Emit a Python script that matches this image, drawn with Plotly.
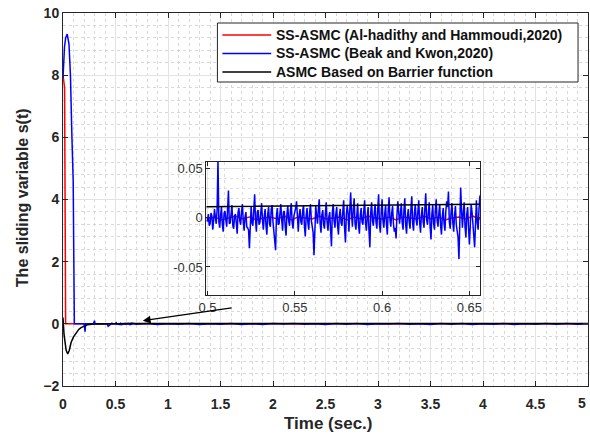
import numpy as np
import plotly.graph_objects as go

# --- data ------------------------------------------------------------------
# red: SS-ASMC (Al-hadithy and Hammoudi, 2020)
red_t_head = [0.0, 0.015, 0.025, 0.1, 0.3, 0.499]
red_s_head = [8.0, 7.6, 0.0, 0.0, 0.0, 0.0]
# zoomed window (0.5 .. 0.656 s), step 4 ms, values in 1e-3
red_zoom_ms = [-1, 1, -2, 0, 2, -1, 1, -2, 0, 1, -1, 2, -2, 1, 0, -1, 2, -1, 0, 1,
               -2, 1, -1, 2, 0, -1, 1, -2, 1, 0, -1, 2, -1, 1, -2, 0, 1, -1, 2, -1]
red_t_tail = [0.7, 5.0]
red_s_tail = [0.0, 0.0]

# blue: SS-ASMC (Beak and Kwon, 2020)
blue_t_head = [0.0, 0.005, 0.014, 0.025, 0.04, 0.057, 0.071, 0.085, 0.097, 0.108,
               0.2, 0.205, 0.21, 0.215, 0.29, 0.295, 0.3, 0.305,
               0.42, 0.425, 0.43, 0.46, 0.465, 0.47]
blue_s_head = [7.9, 8.5, 8.9, 9.2, 9.32, 9.0, 8.0, 6.0, 4.6, 0.0,
               0.0, -0.1, -0.25, 0.0, 0.0, 0.05, 0.1, 0.0,
               0.0, -0.04, -0.08, 0.0, 0.03, 0.0]
# zoomed window, samples on whole milliseconds from 0.5 s, values in 1e-3
blue_zoom_ms = [
    -3, -8, 5, -12, 9, -6, 60, -10, 11, -14,
    7, -9, 28, -5, 13, -11, 4, -16, 10, -7,
    14, -13, 6, -10, -31, 12, -8, 24, -14, 8,
    -5, 15, -12, 9, -17, 11, -9, 13, -15, -33,
    10, -6, 14, -13, 7, -18, 12, -8, 15, -11,
    5, 17, -14, 9, -7, 13, -19, 10, -12, 14,
    -9, -38, 12, -6, 19, -15, 8, -11, 16, -13,
    6, -29, 14, -10, 11, -17, 9, -8, 18, -25,
    12, -14, 26, -9, 20, -12, 15, -16, 10, -7,
    18, -13, 11, -30, 16, -8, 14, -11, 24, -15,
    19, -10, 13, -17, 21, -9, 12, -14, -21, 17,
    -6, 15, -12, 20, -16, 9, -11, 22, -13, 14,
    -8, 18, -15, 11, -10, 25, -7, 16, -22, 13,
    -12, 19, -9, 14, -17, 10, -13, 17, 27, -11,
    15, -14, 12, -18, -42, 31, -10, 16, -20, 11,
    -27, 14, -15, -30, 18, -12, 22]
# samples half way between those, values in 1e-3
blue_zoom_half_ms = [
    4, -6, 2, -3, 1, 8, -4, 3, -7, 5,
    -2, 9, -6, 4, -8, 2, -5, 6, -3, 7,
    -4, 1, -9, -12, 3, -5, 8, -2, 6, -7,
    5, -3, 2, -8, 4, -6, 9, -4, -20, 3,
    -7, 5, -2, 6, -9, 4, -3, 8, -5, 2,
    10, -6, 3, -4, 7, -8, 2, -5, 6, -3,
    -15, 4, 2, 9, -6, 3, -7, 5, -4, 1,
    -12, 6, -3, 4, -8, 2, -5, 7, -10, 3,
    5, 8, 4, 9, -6, 2, -8, 3, -4, 7,
    -5, 2, -14, 6, -3, 5, -4, 9, -7, 6,
    -3, 4, -7, 8, -2, 5, -6, -10, 3, 6,
    4, -5, 8, -7, 2, -4, 9, -6, 5, -2,
    7, -5, 3, -4, 10, -2, 6, -9, 4, -6,
    8, -3, 5, -8, 2, -6, 7, 11, -4, 6,
    -5, 3, -7, -20, -12, 8, 5, -9, 4, -10,
    -8, 6, -18, 7, -5, 9]
# rest of the run, step 0.1 s from 0.7 s, values in 1e-3
blue_tail_ms = [-12, 8, -20, 5, -15, 10, -25, 3, -10, 12, -18, 6, -22, 9, -8,
                14, -16, 4, -20, 7, -12, 11, -24, 5, -9, 13, -17, 2, -21, 8,
                -11, 10, -19, 6, -14, 12, -23, 4, -10, 9, -16, 7, -13, 5]

# black: ASMC Based on Barrier function
black_t = [0.0, 0.01, 0.03, 0.045, 0.06, 0.077, 0.1, 0.125, 0.15, 0.172, 0.2,
           0.231, 0.3, 0.4, 0.5, 0.656, 1.0, 2.0, 3.0, 4.0, 5.0]
black_s = [0.2, -0.35, -0.85, -0.97, -0.85, -0.6, -0.42, -0.28, -0.18, -0.12, -0.07,
           -0.03, -0.005, 0.006, 0.0115, 0.014, 0.012, 0.011, 0.011, 0.01, 0.01]

legend_names = ['SS-ASMC (Al-hadithy and Hammoudi,2020)',
                'SS-ASMC (Beak and Kwon,2020)',
                'ASMC Based on Barrier function']
colors = ['#ff0000', '#0000ff', '#000000']

# --- assemble series --------------------------------------------------------
red_zoom_t = 0.5 + 0.004 * np.arange(len(red_zoom_ms))
red_t = np.concatenate([red_t_head, red_zoom_t, red_t_tail])
red_s = np.concatenate([red_s_head, np.array(red_zoom_ms) / 1000, red_s_tail])

zoom_ms = np.empty(len(blue_zoom_ms) + len(blue_zoom_half_ms))
zoom_ms[0::2] = blue_zoom_ms
zoom_ms[1::2] = blue_zoom_half_ms
blue_zoom_t = 0.5 + 0.0005 * np.arange(len(zoom_ms))
blue_tail_t = 0.7 + 0.1 * np.arange(len(blue_tail_ms))
blue_t = np.concatenate([blue_t_head, blue_zoom_t, blue_tail_t])
blue_s = np.concatenate([blue_s_head, zoom_ms / 1000, np.array(blue_tail_ms) / 1000])

series = [(red_t, red_s), (blue_t, blue_s), (np.array(black_t), np.array(black_s))]

# --- figure geometry (pixels) ----------------------------------------------
W, H = 590, 434
L, R, T, B = 63, 590, 13, 386


def px(x):
    return (x - L) / (R - L)


def py(y):
    return (B - y) / (B - T)


fig = go.Figure()
for (t, s), c, name in zip(series, colors, legend_names):
    fig.add_trace(go.Scatter(x=t, y=s, mode='lines', name=name,
                             line=dict(color=c, width=1.5), showlegend=False))
for (t, s), c, name in zip(series, colors, legend_names):
    fig.add_trace(go.Scatter(x=t, y=s, mode='lines', name=name,
                             line=dict(color=c, width=1.5),
                             showlegend=False, xaxis='x2', yaxis='y2'))

axis_common = dict(showline=True, linecolor='#262626', linewidth=1, mirror='ticks',
                   ticks='inside', tickcolor='#262626', zeroline=False,
                   showgrid=True, gridcolor='#e3e3e3', gridwidth=1)
bold_tick = dict(family='Liberation Sans, Arial', size=14, color='#262626', weight='bold')
inset_tick = dict(family='Liberation Sans, Arial', size=13, color='#333333')

fig.update_layout(
    width=W, height=H,
    margin=dict(l=L, r=W - R, t=T, b=H - B),
    paper_bgcolor='white', plot_bgcolor='white',
    xaxis=dict(axis_common, range=[0, 5], dtick=0.5, ticklen=5, tickfont=bold_tick,
               ticklabelstandoff=5,
               minor=dict(dtick=0.1, showgrid=True, gridcolor='#d8d8d8', griddash='dot')),
    yaxis=dict(axis_common, range=[-2, 10], dtick=2, ticklen=5, tickfont=bold_tick,
               minor=dict(dtick=0.4, showgrid=True, gridcolor='#d8d8d8', griddash='dot')),
    xaxis2=dict(axis_common, domain=[px(207), px(482)], anchor='y2',
                range=[0.4994, 0.6563], tickvals=[0.5, 0.55, 0.6, 0.65],
                ticktext=['0.5', '0.55', '0.6', '0.65'], ticklen=4, tickfont=inset_tick,
                minor=dict(dtick=0.01, showgrid=True, gridcolor='#dddddd', griddash='dot')),
    yaxis2=dict(axis_common, domain=[py(295), py(162)], anchor='x2',
                range=[-0.0786, 0.057], tickvals=[-0.05, 0, 0.05],
                ticktext=['-0.05', '0', '0.05'], ticklen=4, tickfont=inset_tick,
                minor=dict(dtick=0.01, showgrid=True, gridcolor='#dddddd', griddash='dot')),
)

# legend drawn by hand to get MATLAB-like long line samples
shapes = [dict(type='rect', xref='paper', yref='paper', x0=px(218), x1=px(580),
               y0=py(82), y1=py(23), line=dict(color='#262626', width=1),
               fillcolor='white', layer='above')]
annotations = []
for row, (c, name) in enumerate(zip(colors, legend_names)):
    yy = 35 + row * 18.5
    shapes.append(dict(type='line', xref='paper', yref='paper', x0=px(223), x1=px(272),
                       y0=py(yy), y1=py(yy), line=dict(color=c, width=1.5), layer='above'))
    annotations.append(dict(text=name, xref='paper', yref='paper', x=px(275), y=py(yy),
                            xanchor='left', yanchor='middle', showarrow=False,
                            font=dict(family='Liberation Sans, Arial', size=14,
                                      color='#111111', weight='bold')))

# last x tick label, kept just inside the right edge of the image
annotations.append(dict(text='5', xref='paper', yref='paper', x=px(590), y=py(403),
                        xanchor='right', yanchor='middle', showarrow=False,
                        font=bold_tick))

# axis titles
annotations.append(dict(text='Time (sec.)', xref='paper', yref='paper', x=px(330), y=py(423),
                        xanchor='center', yanchor='middle', showarrow=False,
                        font=dict(family='Liberation Sans, Arial', size=17,
                                  color='#262626', weight='bold')))
annotations.append(dict(text='The sliding variable s(t)', xref='paper', yref='paper',
                        x=px(22), y=py(198), xanchor='center', yanchor='middle',
                        textangle=-90, showarrow=False,
                        font=dict(family='Liberation Sans, Arial', size=16,
                                  color='#262626', weight='bold')))

# arrow pointing from the inset to the steady-state part of the curve
annotations.append(dict(x=0.76, y=0.1, ax=1.62, ay=0.52, xref='x', yref='y',
                        axref='x', ayref='y', text='', showarrow=True,
                        arrowhead=2, arrowsize=1.3, arrowwidth=1.2, arrowcolor='#000000'))

fig.update_layout(shapes=shapes, annotations=annotations)

# the page body has a default 8px margin; drop it so the figure sits at (0, 0)
fig.write_html("out.html", config={'displayModeBar': False},
               post_script="document.body.style.margin='0';")
